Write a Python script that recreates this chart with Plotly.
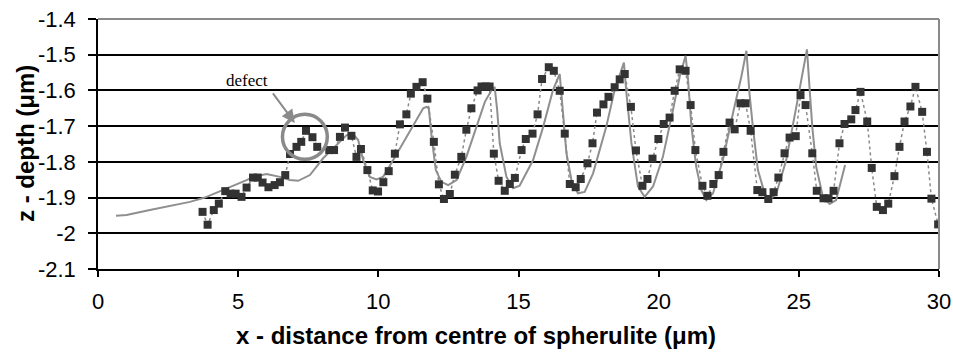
import plotly.graph_objects as go

# Measured profile (markers)
meas_x = [3.73, 3.91, 4.13, 4.31, 4.54, 4.73, 4.91, 5.12, 5.30, 5.53, 5.70, 5.87, 6.08, 6.30, 6.49, 6.68,
          6.85, 7.08, 7.25, 7.42, 7.65, 7.82, 8.25, 8.42, 8.63, 8.81, 9.04, 9.22, 9.38, 9.61, 9.80, 9.99,
          10.18, 10.37, 10.59, 10.77, 11.00, 11.16, 11.36, 11.58, 11.75, 11.98, 12.16, 12.34, 12.55, 12.73,
          12.96, 13.14, 13.32, 13.54, 13.68, 13.83, 13.97, 14.12, 14.29, 14.51, 14.69, 14.87, 15.11, 15.26,
          15.50, 15.68, 15.84, 16.08, 16.26, 16.47, 16.65, 16.83, 17.04, 17.22, 17.46, 17.64, 17.80, 18.03,
          18.21, 18.43, 18.61, 18.79, 19.01, 19.19, 19.42, 19.60, 19.78, 19.99, 20.18, 20.39, 20.57, 20.75,
          20.96, 21.14, 21.31, 21.56, 21.74, 21.95, 22.14, 22.31, 22.53, 22.71, 22.92, 23.10, 23.28, 23.52,
          23.70, 23.91, 24.10, 24.27, 24.49, 24.67, 24.89, 25.06, 25.24, 25.48, 25.64, 25.88, 26.06, 26.24,
          26.45, 26.63, 26.87, 27.02, 27.20, 27.44, 27.60, 27.78, 28.00, 28.19, 28.41, 28.59, 28.77, 28.98,
          29.16, 29.40, 29.57, 29.73, 29.97, 30.20]
meas_z = [-1.940, -1.976, -1.935, -1.917, -1.882, -1.889, -1.889, -1.898, -1.872, -1.844, -1.844, -1.858,
          -1.871, -1.865, -1.857, -1.837, -1.778, -1.758, -1.744, -1.713, -1.731, -1.758, -1.767, -1.767,
          -1.730, -1.704, -1.727, -1.786, -1.764, -1.823, -1.880, -1.883, -1.857, -1.826, -1.777, -1.695,
          -1.667, -1.609, -1.590, -1.577, -1.623, -1.744, -1.863, -1.904, -1.890, -1.836, -1.786, -1.710,
          -1.650, -1.600, -1.589, -1.589, -1.589, -1.777, -1.853, -1.881, -1.862, -1.845, -1.767, -1.736,
          -1.721, -1.667, -1.568, -1.535, -1.545, -1.601, -1.721, -1.862, -1.871, -1.848, -1.804, -1.748,
          -1.662, -1.639, -1.618, -1.591, -1.569, -1.554, -1.646, -1.768, -1.867, -1.848, -1.791, -1.736,
          -1.694, -1.676, -1.601, -1.541, -1.545, -1.641, -1.767, -1.867, -1.895, -1.862, -1.837, -1.772,
          -1.690, -1.709, -1.636, -1.636, -1.713, -1.879, -1.885, -1.904, -1.885, -1.844, -1.776, -1.732,
          -1.728, -1.613, -1.641, -1.776, -1.881, -1.902, -1.902, -1.881, -1.748, -1.694, -1.681, -1.655,
          -1.604, -1.687, -1.817, -1.926, -1.935, -1.917, -1.840, -1.758, -1.687, -1.645, -1.590, -1.660,
          -1.772, -1.903, -1.975, -1.915]

# Model profile (solid line)
model_x = [0.64, 1.02, 1.85, 2.57, 3.28, 3.81, 4.47, 5.30, 5.54, 6.01, 6.49, 6.84, 7.14, 7.56, 8.03, 8.39,
           8.87, 9.10, 9.28, 9.46, 9.70, 9.93, 10.17, 10.53, 10.88, 11.24, 11.60, 11.72, 11.80, 11.90, 12.05,
           12.25, 12.49, 12.79, 13.14, 13.50, 13.80, 14.04, 14.15, 14.24, 14.33, 14.57, 14.81, 15.04, 15.52,
           15.88, 16.23, 16.47, 16.57, 16.71, 16.89, 17.12, 17.36, 17.66, 18.13, 18.43, 18.67, 18.76, 18.85,
           19.03, 19.26, 19.50, 19.80, 20.15, 20.51, 20.75, 20.96, 21.04, 21.17, 21.34, 21.52, 21.70, 21.94,
           22.29, 22.65, 22.95, 23.13, 23.24, 23.36, 23.54, 23.78, 23.96, 24.20, 24.55, 24.91, 25.09, 25.29,
           25.38, 25.48, 25.62, 25.86, 26.10, 26.33, 26.65]
model_z = [-1.951, -1.949, -1.935, -1.924, -1.912, -1.900, -1.879, -1.851, -1.842, -1.834, -1.842, -1.851,
           -1.853, -1.837, -1.790, -1.762, -1.725, -1.722, -1.739, -1.795, -1.842, -1.849, -1.842, -1.795,
           -1.748, -1.702, -1.650, -1.646, -1.650, -1.730, -1.823, -1.856, -1.865, -1.851, -1.786, -1.702,
           -1.632, -1.599, -1.590, -1.655, -1.748, -1.842, -1.874, -1.867, -1.795, -1.702, -1.599, -1.554,
           -1.655, -1.776, -1.851, -1.888, -1.884, -1.832, -1.702, -1.599, -1.543, -1.522, -1.608, -1.748,
           -1.869, -1.898, -1.869, -1.786, -1.655, -1.561, -1.503, -1.561, -1.702, -1.814, -1.879, -1.907,
           -1.888, -1.795, -1.664, -1.561, -1.489, -1.608, -1.702, -1.823, -1.888, -1.907, -1.888, -1.795,
           -1.646, -1.571, -1.485, -1.590, -1.702, -1.814, -1.898, -1.918, -1.907, -1.809]

x_tick_vals = [0, 5, 10, 15, 20, 25, 30]
x_tick_labels = ["0", "5", "10", "15", "20", "25", "30"]
y_tick_vals = [-1.4, -1.5, -1.6, -1.7, -1.8, -1.9, -2.0, -2.1]
y_tick_labels = ["-1.4", "-1.5", "-1.6", "-1.7", "-1.8", "-1.9", "-2", "-2.1"]

x_title = "<b>x - distance from centre of spherulite (μm)</b>"
y_title = "<b>z - depth (μm)</b>"

defect_label = "defect"
defect_center = (7.38, -1.730)
defect_text_pos = (5.31, -1.572)
defect_arrow_tail = (6.20, -1.604)
defect_arrow_tip = (7.02, -1.691)

W, H = 953, 355
ML, MR, MT, MB = 98, 14, 19, 86
plot_w = W - ML - MR
plot_h = H - MT - MB

fig = go.Figure()
fig.add_trace(go.Scatter(x=model_x, y=model_z, mode="lines",
                         line=dict(color="#8f8f8f", width=2), showlegend=False))
fig.add_trace(go.Scatter(x=meas_x, y=meas_z, mode="lines+markers",
                         line=dict(color="#8a8a8a", width=1.5, dash="3px,3px"),
                         marker=dict(symbol="square", size=8, color="#333333"),
                         showlegend=False))

axis_font = dict(family="Arial, Liberation Sans, sans-serif", size=22, color="black")
title_font = dict(family="Arial, Liberation Sans, sans-serif", size=24, color="black")

fig.update_layout(
    width=W, height=H,
    margin=dict(l=ML, r=MR, t=MT, b=MB),
    paper_bgcolor="white", plot_bgcolor="white",
    xaxis=dict(range=[0, 30], tickvals=x_tick_vals, ticktext=x_tick_labels, automargin=False,
               showgrid=False, zeroline=False, showline=True, linecolor="black", linewidth=1.5,
               ticks="outside", ticklen=6, tickwidth=1.5, tickcolor="black",
               tickfont=axis_font, ticklabelstandoff=6),
    yaxis=dict(range=[-2.1, -1.4], tickvals=y_tick_vals, ticktext=y_tick_labels, automargin=False,
               showgrid=True, gridcolor="black", gridwidth=1.5, zeroline=False,
               showline=True, linecolor="black", linewidth=1.5,
               ticks="outside", ticklen=8, tickwidth=1.5, tickcolor="black",
               tickfont=axis_font, ticklabelstandoff=8),
    shapes=[
        dict(type="line", xref="paper", yref="paper", x0=0, x1=1, y0=1, y1=1,
             line=dict(color="#8a8a8a", width=2)),
        dict(type="line", xref="paper", yref="paper", x0=1, x1=1, y0=0, y1=1,
             line=dict(color="#8a8a8a", width=2)),
        dict(type="circle", xref="x", yref="y",
             x0=defect_center[0] - 0.80, x1=defect_center[0] + 0.80,
             y0=defect_center[1] - 0.063, y1=defect_center[1] + 0.063,
             line=dict(color="#8a8a8a", width=3.5)),
    ],
    annotations=[
        dict(x=(476 - ML) / plot_w, y=-(335 - (H - MB)) / plot_h, xref="paper", yref="paper",
             text=x_title, showarrow=False, xanchor="center", yanchor="middle", font=title_font),
        dict(x=(25 - ML) / plot_w, y=0.5, xref="paper", yref="paper", textangle=-90,
             text=y_title, showarrow=False, xanchor="center", yanchor="middle", font=title_font),
        dict(x=defect_text_pos[0], y=defect_text_pos[1], xref="x", yref="y", text=defect_label,
             showarrow=False, font=dict(family="Liberation Serif, Times New Roman, serif", size=17, color="black")),
        dict(x=defect_arrow_tip[0], y=defect_arrow_tip[1], xref="x", yref="y",
             ax=defect_arrow_tail[0], ay=defect_arrow_tail[1], axref="x", ayref="y",
             text="", showarrow=True, arrowhead=2, arrowsize=1.3, arrowwidth=2, arrowcolor="#8a8a8a"),
    ],
)

fig.write_html("out.html")
